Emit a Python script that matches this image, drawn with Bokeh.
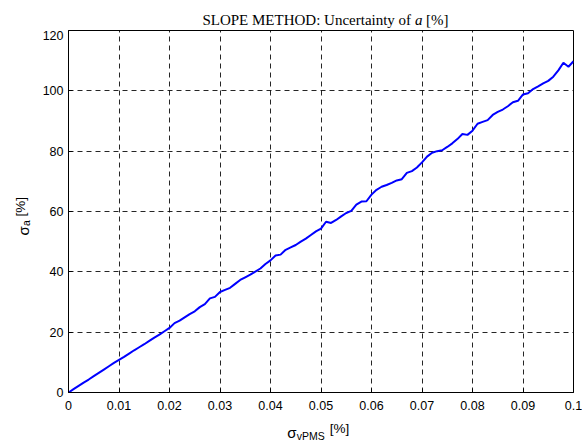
import math
from bokeh.plotting import figure
from bokeh.layouts import column, row
from bokeh.models import Range1d, FixedTicker, Label, ColumnDataSource
from bokeh.embed import file_html
from bokeh.resources import INLINE

# ---- data ----
sigma_vpms = [0.000, 0.001, 0.002, 0.003, 0.004, 0.005, 0.006, 0.007, 0.008, 0.009,
              0.010, 0.011, 0.012, 0.013, 0.014, 0.015, 0.016, 0.017, 0.018, 0.019,
              0.020, 0.021, 0.022, 0.023, 0.024, 0.025, 0.026, 0.027, 0.028, 0.029,
              0.030, 0.031, 0.032, 0.033, 0.034, 0.035, 0.036, 0.037, 0.038, 0.039,
              0.040, 0.041, 0.042, 0.043, 0.044, 0.045, 0.046, 0.047, 0.048, 0.049,
              0.050, 0.051, 0.052, 0.053, 0.054, 0.055, 0.056, 0.057, 0.058, 0.059,
              0.060, 0.061, 0.062, 0.063, 0.064, 0.065, 0.066, 0.067, 0.068, 0.069,
              0.070, 0.071, 0.072, 0.073, 0.074, 0.075, 0.076, 0.077, 0.078, 0.079,
              0.080, 0.081, 0.082, 0.083, 0.084, 0.085, 0.086, 0.087, 0.088, 0.089,
              0.090, 0.091, 0.092, 0.093, 0.094, 0.095, 0.096, 0.097, 0.098, 0.099,
              0.100]
sigma_a = [0.0, 1.1, 2.2, 3.3, 4.3, 5.4, 6.5, 7.6, 8.7, 9.8,
           10.8, 11.8, 12.9, 14.0, 15.0, 16.0, 17.1, 18.2, 19.2, 20.3,
           21.4, 23.0, 23.8, 24.9, 26.0, 26.9, 28.3, 29.3, 31.2, 31.7,
           33.3, 34.0, 34.7, 36.0, 37.3, 38.2, 39.1, 40.1, 41.1, 42.6,
           43.8, 45.4, 45.7, 47.3, 48.1, 48.9, 50.0, 51.0, 52.2, 53.4,
           54.3, 56.6, 56.2, 57.2, 58.4, 59.5, 60.2, 62.3, 63.3, 63.4,
           65.6, 67.2, 68.2, 68.8, 69.5, 70.3, 70.7, 72.8, 73.4, 74.6,
           76.3, 78.2, 79.5, 80.0, 80.3, 81.4, 82.6, 84.0, 85.7, 85.4,
           86.8, 89.1, 89.7, 90.3, 92.0, 93.0, 93.8, 94.9, 96.2, 96.7,
           98.8, 99.2, 100.6, 101.5, 102.5, 103.3, 104.7, 106.8, 109.3, 108.0,
           109.8]
x_ticks = [0, 0.01, 0.02, 0.03, 0.04, 0.05, 0.06, 0.07, 0.08, 0.09, 0.1]
x_tick_labels = ["0", "0.01", "0.02", "0.03", "0.04", "0.05", "0.06", "0.07", "0.08", "0.09", "0.1"]
y_ticks = [0, 20, 40, 60, 80, 100, 120]
y_tick_labels = ["0", "20", "40", "60", "80", "100", "120"]

title_main = "SLOPE METHOD: Uncertainty of"
title_var = "a"
title_unit = "[%]"
xlabel_sym, xlabel_sub, xlabel_unit = "σ", "vPMS", "[%]"
ylabel_sym, ylabel_sub, ylabel_unit = "σ", "a", "[%]"

SANS = "Liberation Sans"
SERIF = "Liberation Serif"

TOTAL_W = 582
TITLE_H = 30
YLAB_W = 36
MAIN_LEFT, MAIN_RIGHT, MAIN_BOTTOM = 32, 9, 24
FRAME_W, FRAME_H = 505, 362
MAIN_H = FRAME_H + MAIN_BOTTOM
XLAB_H = 440 - TITLE_H - MAIN_H

src = ColumnDataSource(data=dict(x=sigma_vpms, y=sigma_a))

p = figure(width=MAIN_LEFT + FRAME_W + MAIN_RIGHT, height=MAIN_H,
           output_backend="svg", toolbar_location=None,
           x_range=Range1d(x_ticks[0], x_ticks[-1]), y_range=Range1d(y_ticks[0], y_ticks[-1]),
           title=None, min_border_left=MAIN_LEFT, min_border_right=MAIN_RIGHT,
           min_border_top=0, min_border_bottom=MAIN_BOTTOM,
           background_fill_color="white", border_fill_color="white")

p.outline_line_color = "black"
p.outline_line_width = 1
p.outline_line_alpha = 1

xt = FixedTicker(ticks=x_ticks)
yt = FixedTicker(ticks=y_ticks)

def style_axis(ax, ticker, labels, standoff):
    ax.ticker = ticker
    ax.axis_line_color = "black"
    ax.major_tick_line_color = "black"
    ax.major_tick_in = 4
    ax.major_tick_out = 0
    ax.minor_tick_line_color = None
    ax.major_label_text_font = SANS
    ax.major_label_text_font_size = "12.5px"
    ax.major_label_text_color = "black"
    ax.major_label_standoff = standoff
    ax.major_label_overrides = {t: l for t, l in zip(ticker.ticks, labels)}

style_axis(p.xaxis[0], xt, x_tick_labels, 8)
style_axis(p.yaxis[0], yt, y_tick_labels, 5)

for g in (p.xgrid[0], p.ygrid[0]):
    g.grid_line_color = "black"
    g.grid_line_dash = "5 4"
    g.grid_line_width = 1
    g.grid_line_alpha = 0.85
p.xgrid[0].ticker = xt
p.ygrid[0].ticker = yt

p.line(x="x", y="y", source=src, line_color="#0000ff", line_width=2)


def text_fig(w, h):
    f = figure(width=w, height=h, output_backend="svg", toolbar_location=None,
               x_axis_location=None, y_axis_location=None, title=None,
               min_border=0, min_border_left=0, min_border_right=0,
               min_border_top=0, min_border_bottom=0,
               outline_line_color=None, background_fill_color="white",
               border_fill_color="white")
    f.grid.visible = False
    return f


def lab(f, text, x, y, size, font=SANS, style="normal", angle=0.0):
    f.add_layout(Label(x=x, y=y, x_units="screen", y_units="screen", text=text,
                       text_font=font, text_font_size=size, text_font_style=style,
                       text_color="black", text_align="left", text_baseline="alphabetic",
                       angle=angle))

# title strip
tf = text_fig(TOTAL_W, TITLE_H)
lab(tf, title_main, 201.9, 11, "15px", font=SERIF)
lab(tf, title_var, 414.4, 11, "15px", font=SERIF, style="italic")
lab(tf, title_unit, 425.6, 11, "15px", font=SERIF)

# y label strip (rotated text)
yf = text_fig(YLAB_W, MAIN_H)
rot = math.pi / 2
lab(yf, ylabel_sym, 22.5, 157, "15px", angle=rot)
lab(yf, ylabel_sub, 25.0, 166.6, "10.5px", angle=rot)
lab(yf, ylabel_unit, 19.5, 176, "13.5px", angle=rot)

# x label strip
xf = text_fig(TOTAL_W, XLAB_H)
lab(xf, xlabel_sym, 286.7, 8.5, "15px")
lab(xf, xlabel_sub, 296.3, 5, "10.5px")
lab(xf, xlabel_unit, 329.3, 12, "13.5px")

layout = column(tf, row(yf, p, spacing=0), xf, spacing=0)

open("out.html", "w").write(file_html(layout, INLINE))
